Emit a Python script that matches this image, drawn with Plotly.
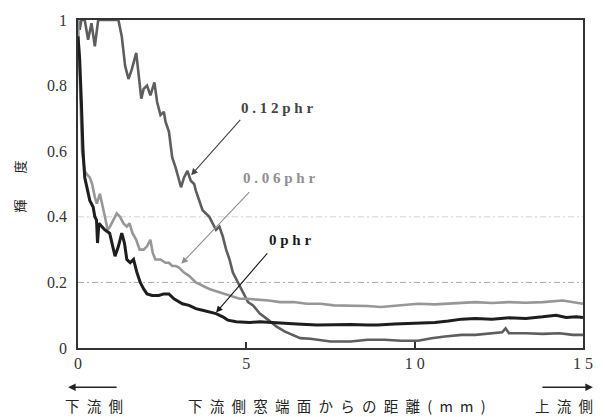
import plotly.graph_objects as go

# ---- data ----
x_012 = [0, 0.05, 0.1, 0.2, 0.3, 0.4, 0.5, 0.55, 0.6, 0.7, 0.8, 0.9, 1.0, 1.1, 1.2,
         1.3, 1.4, 1.5, 1.6, 1.73, 1.8, 1.88, 1.95, 2.05, 2.15, 2.27, 2.35, 2.45, 2.55,
         2.6, 2.7, 2.75, 2.8, 2.9, 3.0, 3.06, 3.15, 3.25, 3.35, 3.45, 3.5, 3.6, 3.7,
         3.8, 3.9, 4.0, 4.1, 4.2, 4.3, 4.4, 4.5, 4.6, 4.75, 4.9, 5.05, 5.2, 5.4, 5.66,
         5.9, 6.15, 6.4, 6.6, 6.9, 7.1, 7.5, 8.1, 8.6, 9.1, 9.6, 10.1, 10.5, 10.9,
         11.4, 11.8, 12.3, 12.6, 12.7, 12.8, 13.3, 13.8, 14.3, 14.7, 15]
y_012 = [1.0, 0.97, 1.0, 1.0, 0.94, 0.99, 0.92, 0.97, 1.0, 1.0, 1.0, 1.0, 1.0, 1.0, 1.0,
         0.95, 0.86, 0.82, 0.85, 0.9, 0.83, 0.76, 0.79, 0.8, 0.77, 0.81, 0.75, 0.71, 0.72,
         0.69, 0.66, 0.62, 0.58, 0.55, 0.51, 0.49, 0.52, 0.54, 0.51, 0.5, 0.48, 0.45, 0.42,
         0.41, 0.4, 0.38, 0.36, 0.37, 0.34, 0.3, 0.27, 0.23, 0.2, 0.17, 0.14, 0.13, 0.105, 0.085,
         0.065, 0.05, 0.04, 0.03, 0.028, 0.025, 0.02, 0.02, 0.025, 0.025, 0.022, 0.022, 0.03, 0.035,
         0.04, 0.04, 0.045, 0.048, 0.06, 0.045, 0.045, 0.043, 0.045, 0.04, 0.04]

x_006 = [0, 0.04, 0.08, 0.12, 0.2, 0.26, 0.35, 0.42, 0.5, 0.56, 0.65, 0.72, 0.8, 0.88,
         0.95, 1.05, 1.15, 1.25, 1.35, 1.45, 1.53, 1.62, 1.73, 1.83, 1.95, 2.05, 2.15,
         2.22, 2.3, 2.45, 2.6, 2.7, 2.8, 2.9, 3.0, 3.15, 3.3, 3.5, 3.7, 3.9, 4.2, 4.5,
         4.8, 5.0, 5.3, 5.66, 6.0, 6.4, 6.8, 7.2, 7.6, 8.1, 8.6, 9.0, 9.5, 10.1, 10.6,
         11.0, 11.5, 11.8, 12.3, 12.8, 13.3, 13.8, 14.4, 14.7, 15]
y_006 = [1.0, 0.85, 0.7, 0.6, 0.54, 0.53, 0.52, 0.5, 0.46, 0.44, 0.47, 0.44, 0.4, 0.36,
         0.37, 0.39, 0.41, 0.4, 0.38, 0.37, 0.38, 0.35, 0.33, 0.3, 0.3, 0.31, 0.33,
         0.29, 0.27, 0.27, 0.26, 0.26, 0.25, 0.25, 0.245, 0.23, 0.22, 0.2, 0.19, 0.18, 0.17, 0.16,
         0.15, 0.15, 0.148, 0.145, 0.14, 0.14, 0.135, 0.135, 0.13, 0.13, 0.128, 0.125, 0.13, 0.135, 0.133,
         0.135, 0.138, 0.14, 0.137, 0.14, 0.138, 0.14, 0.145, 0.14, 0.135]

x_000 = [0, 0.05, 0.1, 0.15, 0.2, 0.28, 0.35, 0.45, 0.5, 0.55, 0.58, 0.62, 0.7, 0.8,
         0.94, 1.02, 1.1, 1.2, 1.3, 1.38, 1.45, 1.55, 1.65, 1.75, 1.85, 1.95, 2.05, 2.2,
         2.4, 2.55, 2.7, 2.85, 3.0, 3.1, 3.3, 3.5, 3.7, 3.9, 4.1, 4.3, 4.45, 4.7, 5.1,
         5.4, 5.7, 6.0, 6.5, 7.1, 7.6, 8.1, 8.6, 8.9, 9.4, 10.1, 10.6, 11.0, 11.4, 11.8,
         12.3, 12.8, 13.3, 13.8, 14.2, 14.5, 14.8, 15]
y_000 = [0.95, 0.88, 0.75, 0.6, 0.52, 0.48, 0.45, 0.43, 0.4, 0.39, 0.32, 0.38, 0.37, 0.36,
         0.35, 0.31, 0.28, 0.31, 0.35, 0.32, 0.27, 0.26, 0.27, 0.23, 0.2, 0.18, 0.165, 0.16,
         0.16, 0.165, 0.165, 0.15, 0.14, 0.135, 0.13, 0.12, 0.115, 0.11, 0.105, 0.095, 0.085, 0.08, 0.078,
         0.08, 0.078, 0.075, 0.073, 0.07, 0.072, 0.072, 0.07, 0.07, 0.073, 0.075, 0.078, 0.082, 0.088, 0.09,
         0.088, 0.092, 0.09, 0.095, 0.1, 0.093, 0.095, 0.093]

x_tick_vals = [0, 5, 10, 15]
x_tick_text = ["0", "5", "1 0", "1 5"]
y_tick_vals = [0, 0.2, 0.4, 0.6, 0.8, 1]
y_tick_text = ["0", "0.2", "0.4", "0.6", "0.8", "1"]
grid_vals = [0.2, 0.4]

labels = ["0 . 1 2 p h r", "0 . 0 6 p h r", "0 p h r"]
label_pos = [(5.9, 0.733), (5.98, 0.518), (6.3, 0.33)]
arrow_head = [(3.36, 0.527), (3.07, 0.257), (4.1, 0.108)]
arrow_tail = [(4.86, 0.70), (5.13, 0.48), (5.66, 0.293)]
label_colors = ["#444444", "#8f8f8f", "#1a1a1a"]

SERIF = "Liberation Serif, Times New Roman, serif"
CJK = "Noto Sans CJK JP"
SP = "\u2002"

fig = go.Figure()
fig.add_trace(go.Scatter(x=x_012, y=y_012, mode="lines",
                         line=dict(color="#5e5e5e", width=2.6), showlegend=False))
fig.add_trace(go.Scatter(x=x_006, y=y_006, mode="lines",
                         line=dict(color="#979797", width=2.6), showlegend=False))
fig.add_trace(go.Scatter(x=x_000, y=y_000, mode="lines",
                         line=dict(color="#1e1e1e", width=3), showlegend=False))

shapes = []
for gv, col in zip(grid_vals, ["#aaaaaa", "#d4d4d4"]):
    shapes.append(dict(type="line", xref="x", yref="y", x0=0, x1=15, y0=gv, y1=gv,
                       line=dict(color=col, width=1, dash="6px,3px,2px,3px"), layer="below"))

annotations = []
for txt, (tx, ty), (hx, hy), (ax, ay), col in zip(labels, label_pos, arrow_head, arrow_tail, label_colors):
    annotations.append(dict(x=hx, y=hy, ax=ax, ay=ay, xref="x", yref="y", axref="x", ayref="y",
                            text="", showarrow=True, arrowhead=2, arrowsize=1.2,
                            arrowwidth=1.1, arrowcolor=col))
    annotations.append(dict(x=tx, y=ty, xref="x", yref="y", text="<b>%s</b>" % txt,
                            showarrow=False, xanchor="center", yanchor="middle",
                            font=dict(family=SERIF, size=15, color=col)))

# axis titles and direction notes
annotations.append(dict(x=-0.114, y=0.494, xref="paper", yref="paper",
                        text="輝" + "\u2003\u2003" + "度", xanchor="center", yanchor="middle",
                        textangle=-90, showarrow=False,
                        font=dict(family=CJK, size=13, color="#222")))
annotations.append(dict(x=0.513, y=-0.174, xref="paper", yref="paper",
                        text=SP.join(list("下流側窓端面からの距離(mm)")),
                        xanchor="center", yanchor="middle",
                        showarrow=False, font=dict(family=CJK, size=14.5, color="#222")))
annotations.append(dict(x=0.031, y=-0.174, xref="paper", yref="paper",
                        text=SP.join(list("下流側")), xanchor="center", yanchor="middle",
                        showarrow=False, font=dict(family=CJK, size=14.5, color="#222")))
annotations.append(dict(x=0.963, y=-0.174, xref="paper", yref="paper",
                        text=SP.join(list("上流側")), xanchor="center", yanchor="middle",
                        showarrow=False, font=dict(family=CJK, size=14.5, color="#222")))
annotations.append(dict(x=-0.0196, y=-0.12, xref="paper", yref="paper", ax=50, ay=0,
                        text="", showarrow=True, arrowhead=2, arrowsize=1, arrowwidth=1.5,
                        arrowcolor="#222"))
annotations.append(dict(x=1.0196, y=-0.12, xref="paper", yref="paper", ax=-52, ay=0,
                        text="", showarrow=True, arrowhead=2, arrowsize=1, arrowwidth=1.5,
                        arrowcolor="#222"))

fig.update_layout(
    width=605, height=417,
    margin=dict(l=78, r=18, t=14, b=69),
    paper_bgcolor="white", plot_bgcolor="white",
    shapes=shapes, annotations=annotations,
    xaxis=dict(range=[0, 15], tickvals=x_tick_vals, ticktext=x_tick_text,
               showgrid=False, zeroline=False, showline=True, mirror=True,
               linecolor="#333", linewidth=1.6, ticks="inside", ticklen=6,
               tickcolor="#333", tickwidth=1.5,
               tickfont=dict(family=SERIF, size=16, color="#333")),
    yaxis=dict(range=[0, 1], tickvals=y_tick_vals, ticktext=y_tick_text,
               showgrid=False, zeroline=False, showline=True, mirror=True,
               linecolor="#333", linewidth=1.6, ticks="", ticklabelstandoff=6,
               tickfont=dict(family=SERIF, size=16, color="#333")),
)

fig.write_html("out.html", config={"displayModeBar": False},
               post_script="document.body.style.margin='0';document.body.style.overflow='hidden';")
